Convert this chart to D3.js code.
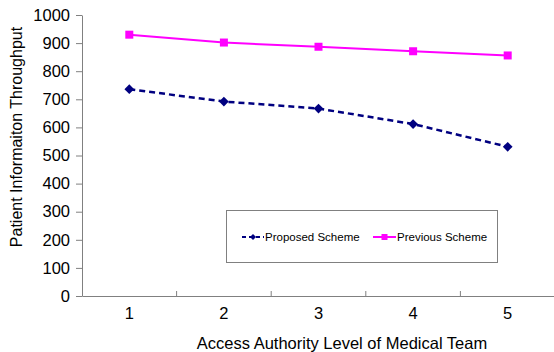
<!DOCTYPE html>
<html><head><meta charset="utf-8">
<script src="https://cdn.jsdelivr.net/npm/d3@7"></script>
<style>body{margin:0;background:#fff;} svg{display:block;font-family:"Liberation Sans",Arial,sans-serif;}</style>
</head><body>
<svg id="c" width="554" height="352"></svg>
<script>
const categories = ["1","2","3","4","5"];
const proposed = [736, 692, 667, 612, 531];
const previous = [930, 902, 887, 871, 856];
const yTicks = [0,100,200,300,400,500,600,700,800,900,1000];
const seriesNames = ["Proposed Scheme","Previous Scheme"];

(function(){
const svg = d3.select("#c");
const mL = 82, mR = 555, mT = 15, mB = 296;
const x = d3.scaleBand().domain(categories).range([mL, mR]).padding(0);
const y = d3.scaleLinear().domain([0,1000]).range([mB, mT]);
const axisColor = "#808080";

// y axis
const ya = svg.append("g").attr("transform", `translate(${mL},0)`)
  .call(d3.axisLeft(y).tickValues(yTicks).tickFormat(d3.format("d")).tickSize(6).tickPadding(6).tickSizeOuter(0));
ya.select(".domain").attr("stroke", axisColor);
ya.selectAll(".tick line").attr("stroke", axisColor);
ya.selectAll(".tick text").attr("font-size", 16.5).attr("fill","#000").attr("font-family","Liberation Sans, Arial");

// x axis
const xa = svg.append("g").attr("transform", `translate(0,${mB})`)
  .call(d3.axisBottom(x).tickSize(0).tickPadding(11).tickSizeOuter(0));
xa.select(".domain").attr("stroke", axisColor);
xa.selectAll(".tick text").attr("font-size", 16.5).attr("fill","#000").attr("font-family","Liberation Sans, Arial");
// inner boundary ticks between categories
svg.append("g").selectAll("line").data(categories.slice(1)).join("line")
  .attr("x1", d => x(d)).attr("x2", d => x(d))
  .attr("y1", mB).attr("y2", mB - 5)
  .attr("stroke", axisColor);

// titles
svg.append("text").attr("x", 342).attr("y", 349).attr("text-anchor","middle")
  .attr("font-size", 16.5).text("Access Authority Level of Medical Team");
svg.append("text").attr("transform", "translate(22,137) rotate(-90)").attr("text-anchor","middle")
  .attr("font-size", 16).text("Patient Informaiton Throughput");

const cx = d => x(d) + x.bandwidth()/2;
const line = d3.line().x((d,i) => cx(categories[i])).y(d => y(d));

// previous
svg.append("path").datum(previous).attr("d", line).attr("fill","none")
  .attr("stroke","#FF00FF").attr("stroke-width",2);
svg.append("g").selectAll("rect").data(previous).join("rect")
  .attr("x",(d,i)=>cx(categories[i])-4).attr("y",d=>y(d)-4)
  .attr("width",8).attr("height",8).attr("fill","#FF00FF");

// proposed
svg.append("path").datum(proposed).attr("d", line).attr("fill","none")
  .attr("stroke","#000080").attr("stroke-width",2.5).attr("stroke-dasharray","6,4");
svg.append("g").selectAll("path.m").data(proposed).join("path")
  .attr("d", d3.symbol().type(d3.symbolDiamond2).size(60))
  .attr("transform",(d,i)=>`translate(${cx(categories[i])},${y(d)})`)
  .attr("fill","#000080");

// legend
const lg = svg.append("g");
lg.append("rect").attr("x",226.5).attr("y",210.5).attr("width",271).attr("height",52)
  .attr("fill","#fff").attr("stroke",axisColor);
const ly = 237;
lg.append("line").attr("x1",242).attr("x2",264).attr("y1",ly).attr("y2",ly)
  .attr("stroke","#000080").attr("stroke-width",2).attr("stroke-dasharray","4,3");
lg.append("path").attr("d", d3.symbol().type(d3.symbolDiamond2).size(24))
  .attr("transform",`translate(253,${ly})`).attr("fill","#000080");
lg.append("text").attr("x",265).attr("y",ly+4).attr("font-size",11.5).text(seriesNames[0]);
lg.append("line").attr("x1",373).attr("x2",396).attr("y1",ly).attr("y2",ly)
  .attr("stroke","#FF00FF").attr("stroke-width",2);
lg.append("rect").attr("x",381.5).attr("y",ly-3).attr("width",6).attr("height",6).attr("fill","#FF00FF");
lg.append("text").attr("x",397).attr("y",ly+4).attr("font-size",11.5).text(seriesNames[1]);
})();
</script>
</body></html>
